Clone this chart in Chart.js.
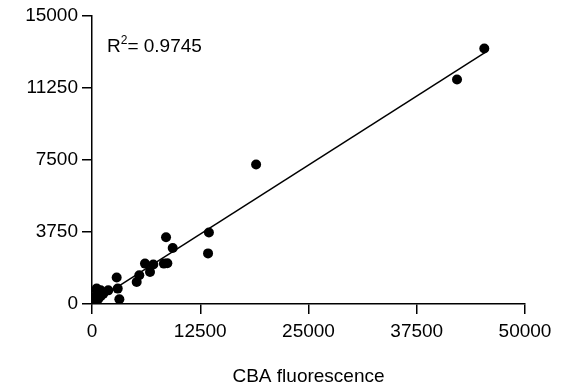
<!DOCTYPE html>
<html>
<head>
<meta charset="utf-8">
<script src="https://cdn.jsdelivr.net/npm/chart.js@4/dist/chart.umd.min.js"></script>
<style>
  html, body { margin: 0; padding: 0; background: #fff; }
  #wrap { width: 565px; height: 388px; position: relative; }
</style>
</head>
<body>
<div id="wrap"><canvas id="c" width="565" height="388"></canvas></div>
<script>
// Data
const xValues = [45300, 42150, 18950, 13500, 13400, 8550, 9320, 8300, 8700, 6120, 7080, 6700, 5460, 5160,
                 2850, 2970, 3160, 1880, 1310, 1000, 540, 900, 460, 300, 700, 150, 50, 1000, 540];
const yValues = [13280, 11670, 7250, 3720, 2630, 3470, 2910, 2100, 2120, 2100, 2050, 1660, 1490, 1140,
                 1380, 800, 250, 710, 540, 400, 710, 500, 400, 230, 250, 100, 30, 712, 800];
const fitX = [0, 45500];
const fitY = [46, 13100];
const xTicks = [0, 12500, 25000, 37500, 50000];
const yTicks = [0, 3750, 7500, 11250, 15000];
const xTitle = "CBA fluorescence";
const r2Label = "0.9745";

const FONT = "'Liberation Sans', Arial, sans-serif";
const FS = 19;
const points = xValues.map((x, i) => ({ x: x, y: yValues[i] }));
const fitLine = fitX.map((x, i) => ({ x: x, y: fitY[i] }));

const r2Plugin = {
  id: 'r2',
  afterDraw(chart) {
    const ctx = chart.ctx;
    ctx.save();
    ctx.fillStyle = '#000';
    ctx.textBaseline = 'alphabetic';
    ctx.font = FS + "px " + FONT;
    let x = 107, y = 52;
    ctx.fillText('R', x, y);
    x += ctx.measureText('R').width;
    ctx.font = "12px " + FONT;
    ctx.fillText('2', x, y - 8);
    x += ctx.measureText('2').width;
    ctx.font = FS + "px " + FONT;
    ctx.fillText('= ' + r2Label, x, y);
    ctx.restore();
  }
};

new Chart(document.getElementById('c'), {
  type: 'scatter',
  data: {
    datasets: [
      {
        type: 'line',
        data: fitLine,
        borderColor: '#000',
        borderWidth: 1.5,
        pointRadius: 0,
        fill: false,
        order: 2
      },
      {
        type: 'scatter',
        data: points,
        backgroundColor: '#000',
        borderColor: '#000',
        pointRadius: 5,
        borderWidth: 0,
        order: 1
      }
    ]
  },
  options: {
    responsive: false,
    animation: false,
    devicePixelRatio: 1,
    layout: { padding: { top: 15, right: 40, left: 0, bottom: 0 } },
    plugins: { legend: { display: false }, tooltip: { enabled: false } },
    scales: {
      x: {
        type: 'linear',
        min: 0, max: 50000,
        afterBuildTicks(s) { s.ticks = xTicks.map(v => ({ value: v })); },
        afterFit(s) { s.height = 84; },
        grid: { display: true, drawOnChartArea: false, drawTicks: true, tickLength: 10, color: '#000', lineWidth: 1.5 },
        border: { display: true, color: '#000', width: 1.5 },
        ticks: { color: '#000', font: { family: FONT, size: FS }, padding: 6, maxRotation: 0, autoSkip: false,
                  callback: v => String(v) },
        title: { display: true, text: xTitle, color: '#000', font: { family: FONT, size: FS }, padding: { top: 25, bottom: 0 } }
      },
      y: {
        type: 'linear',
        min: 0, max: 15000,
        afterBuildTicks(s) { s.ticks = yTicks.map(v => ({ value: v })); },
        afterFit(s) { s.width = 92; },
        grid: { display: true, drawOnChartArea: false, drawTicks: true, tickLength: 10, color: '#000', lineWidth: 1.5 },
        border: { display: true, color: '#000', width: 1.5 },
        ticks: { color: '#000', font: { family: FONT, size: FS }, padding: 4, autoSkip: false,
                  callback: v => String(v) }
      }
    }
  },
  plugins: [r2Plugin]
});
</script>
</body>
</html>
